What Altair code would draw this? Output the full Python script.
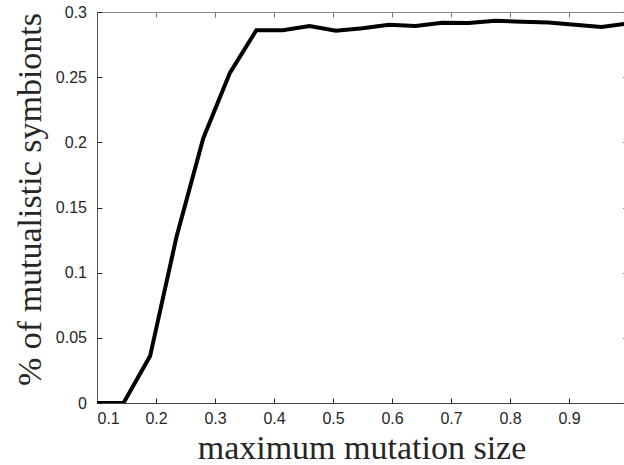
import altair as alt
import pandas as pd

# Data
mutation_size = [0.1, 0.145, 0.19, 0.235, 0.28, 0.325, 0.37, 0.415, 0.46, 0.505,
                 0.55, 0.595, 0.64, 0.685, 0.73, 0.775, 0.82, 0.865, 0.91, 0.955, 1.0]
mutualistic = [0.0, 0.0, 0.036, 0.128, 0.203, 0.253, 0.286, 0.286, 0.2893, 0.2857,
               0.2875, 0.2902, 0.2893, 0.2918, 0.2915, 0.2932, 0.2925, 0.2919, 0.2902, 0.2885, 0.2912]
x_ticks = [0.1, 0.2, 0.3, 0.4, 0.5, 0.6, 0.7, 0.8, 0.9]
y_ticks = [0, 0.05, 0.1, 0.15, 0.2, 0.25, 0.3]

df = pd.DataFrame({"size": mutation_size, "pct": mutualistic})

# The original figure is cropped at the right edge just before x = 1
x_domain = [0.1, 0.9932]
y_domain = [0, 0.3]

W, H = 527, 391
dark = "#262626"
tick_len = 5

xs = alt.Scale(domain=x_domain, nice=False, zero=False)
ys = alt.Scale(domain=y_domain, nice=False)

# Layer A: data line, bottom/left axes with labels and titles (no ticks)
main = alt.Chart(df).mark_line(color="black", strokeWidth=4, clip=True).encode(
    x=alt.X("size:Q", scale=xs, axis=alt.Axis(
        orient="bottom", values=x_ticks, format=".1~f", grid=False,
        ticks=False, domainColor="#444444",
        labelPadding=7, labelFont="Liberation Sans", labelFontSize=16,
        labelColor=dark, labelAngle=0,
        title="maximum mutation size", titleFont="Liberation Serif", titleFontSize=34,
        titleFontWeight="normal", titleColor=dark, titleBaseline="alphabetic",
        titleAlign="center", titleX=264.5, titleY=55)),
    y=alt.Y("pct:Q", scale=ys, axis=alt.Axis(
        orient="left", values=y_ticks, format=".2~f", grid=False,
        ticks=False, domainColor="#555555",
        labelPadding=10.5, labelFont="Liberation Sans", labelFontSize=16,
        labelColor=dark, labelBaseline="middle",
        title="% of mutualistic symbionts", titleFont="Liberation Serif", titleFontSize=34,
        titleFontWeight="normal", titleColor=dark, titleBaseline="alphabetic",
        titleAlign="center", titleAngle=270, titleX=-57, titleY=187)),
)

# Layer B: inward ticks on the bottom and left borders
ticks_bl = alt.Chart(df).mark_line(strokeOpacity=0).encode(
    x=alt.X("size:Q", scale=xs, axis=alt.Axis(
        orient="top", offset=-H, values=x_ticks, labels=False, title=None,
        grid=False, domain=False, tickSize=tick_len, tickColor=dark)),
    y=alt.Y("pct:Q", scale=ys, axis=alt.Axis(
        orient="right", offset=-W, values=y_ticks, labels=False, title=None,
        grid=False, domain=False, tickSize=tick_len, tickColor=dark)),
)

# Layer C: top border with inward ticks, and inward ticks of the (cropped) right border
ticks_tr = alt.Chart(df).mark_line(strokeOpacity=0).encode(
    x=alt.X("size:Q", scale=xs, axis=alt.Axis(
        orient="bottom", offset=-H, values=x_ticks, labels=False, title=None,
        grid=False, domain=True, domainColor="#888888",
        tickSize=tick_len, tickColor="#777777")),
    y=alt.Y("pct:Q", scale=ys, axis=alt.Axis(
        orient="left", offset=-(W + 4), values=y_ticks, labels=False, title=None,
        grid=False, domain=False, tickSize=tick_len, tickColor=dark)),
)

chart = alt.layer(main, ticks_bl, ticks_tr).resolve_axis(
    x="independent", y="independent"
).properties(
    width=W, height=H,
    autosize=alt.AutoSizeParams(type="none"),
    padding={"left": 97, "top": 12, "right": 0, "bottom": 62},
    background="white",
).configure_view(stroke=None)

chart.save("out.html", embed_options={"renderer": "svg", "actions": False})
